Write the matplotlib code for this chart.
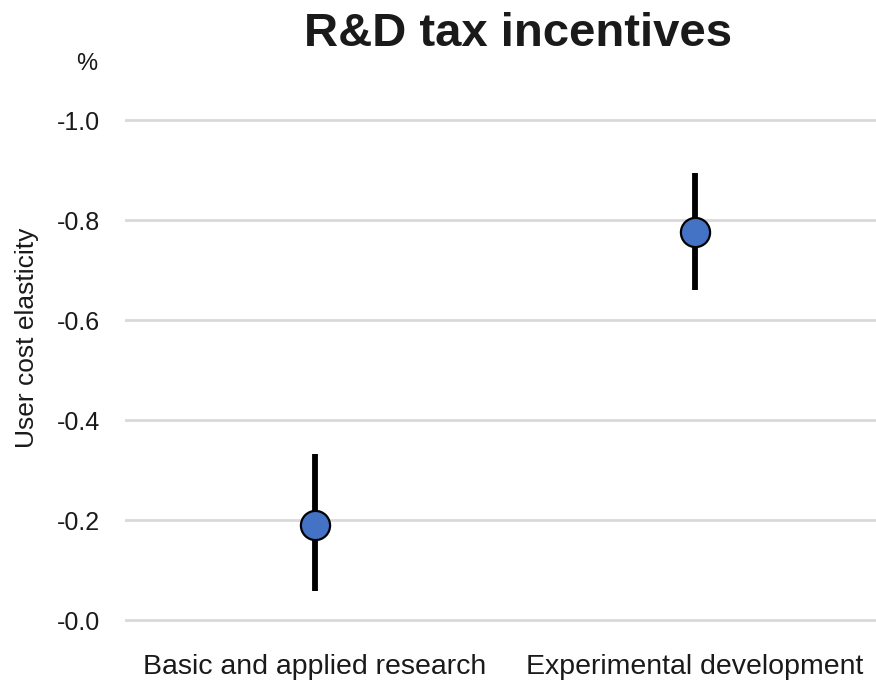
import matplotlib
matplotlib.use("Agg")
import matplotlib.pyplot as plt

categories = ["Basic and applied research", "Experimental development"]
elasticity = [-0.19, -0.776]
ci_low = [-0.058, -0.66]
ci_high = [-0.332, -0.894]
ytick_values = [-1.0, -0.8, -0.6, -0.4, -0.2, 0.0]
ytick_labels = ["-1.0", "-0.8", "-0.6", "-0.4", "-0.2", "-0.0"]

font = "Liberation Sans"
text_col = "#1a1a1a"

fig = plt.figure(figsize=(8.76, 6.81), dpi=100)
ax = fig.add_axes([125 / 876, 1 - 630 / 681, 751 / 876, 520 / 681])

x = list(range(len(categories)))
# confidence intervals as thick vertical bars, point estimate on top
for i in x:
    ax.plot([i, i], [ci_low[i], ci_high[i]], color="black", lw=4.2, zorder=3, solid_capstyle="butt")
ax.plot(x, elasticity, "o", ms=21, mfc="#4472C4", mec="black", mew=1.6, zorder=4)

for v in ytick_values:
    ax.axhline(v, color="#d9d9d9", lw=2, zorder=1)

ax.set_xlim(-0.5, 1.476)
ax.set_ylim(0.02, -1.02)
ax.set_yticks(ytick_values)
ax.set_yticklabels(ytick_labels, family=font, fontsize=18, color=text_col)
ax.set_xticks(x)
ax.set_xticklabels(categories, family=font, fontsize=20.5, color=text_col)
ax.tick_params(length=0, axis="y", pad=18)
ax.tick_params(length=0, axis="x", pad=17)
for s in ax.spines.values():
    s.set_visible(False)

fig.text(27 / 876, 1 - 338 / 681, "User cost elasticity", family=font, fontsize=19,
         rotation=90, ha="center", va="center", color=text_col)
fig.text(87 / 876, 1 - 64 / 681, "%", family=font, fontsize=17, ha="center", va="center", color=text_col)
fig.text(518 / 876, 1 - 46 / 681, "R&D tax incentives", family=font,
         fontweight="bold", fontsize=34, ha="center", va="baseline", color=text_col)

fig.savefig("out.png", dpi=100)
